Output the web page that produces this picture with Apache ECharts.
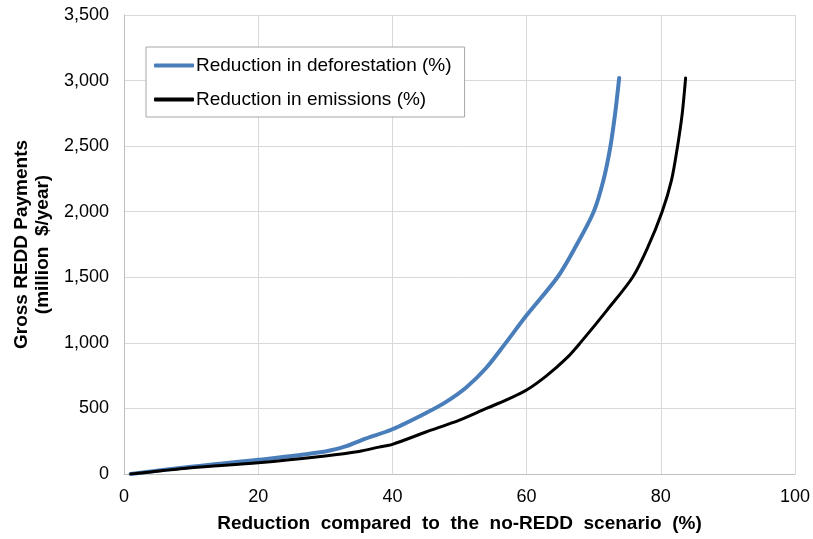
<!DOCTYPE html>
<html>
<head>
<meta charset="utf-8">
<script src="https://cdn.jsdelivr.net/npm/echarts@6/dist/echarts.min.js"></script>
<style>html,body{margin:0;padding:0;background:#fff;}#c{width:813px;height:539px;}</style>
</head>
<body>
<div id="c"></div>
<script>
// Reduction in deforestation (%) vs payments
var deforX = [1, 10, 20, 30, 33, 36, 40, 45, 48, 51, 54, 56.9, 60, 64.6, 67.3, 70, 71.5, 72.5, 73.2, 73.8];
var deforY = [0, 55, 108, 172, 210, 270, 341, 465, 550, 660, 810, 1000, 1210, 1500, 1733, 2000, 2250, 2500, 2750, 3020];
// Reduction in emissions (%) vs payments
var emisX = [1, 10, 20, 30, 35, 38, 40, 45, 50, 54, 57, 60, 63, 66, 68, 72, 75.8, 78.1, 80.2, 81.6, 82.5, 83.2, 83.7];
var emisY = [0, 48, 86, 138, 172, 205, 226, 320, 411, 500, 565, 640, 750, 885, 1000, 1250, 1500, 1733, 2000, 2241, 2500, 2750, 3020];
var seriesNames = ['Reduction in deforestation (%)', 'Reduction in emissions (%)'];
var xTitle = 'Reduction  compared  to  the  no-REDD  scenario  (%)';
var yTitle = 'Gross REDD Payments\n(million  $/year)';

function pairs(xs, ys) { return xs.map(function (x, i) { return [x, ys[i]]; }); }

var chart = echarts.init(document.getElementById('c'));
var font = 'Liberation Sans, Arial, sans-serif';
chart.setOption({
  animation: false,
  textStyle: { fontFamily: font },
  grid: { left: 124, right: 17, top: 15, bottom: 65, containLabel: false },
  legend: {
    orient: 'vertical', left: 146, top: 47,
    padding: [9, 13, 8, 8], itemGap: 15,
    borderColor: '#a6a6a6', borderWidth: 1, backgroundColor: '#fff', borderRadius: 0,
    itemWidth: 40, itemHeight: 4, icon: 'roundRect',
    textStyle: { fontSize: 19, lineHeight: 19, color: '#000', fontFamily: font, padding: [0, 0, 0, -3] },
    data: seriesNames
  },
  xAxis: {
    type: 'value', min: 0, max: 100, interval: 20,
    name: xTitle, nameLocation: 'middle', nameGap: 40,
    nameTextStyle: { fontSize: 19, fontWeight: 'bold', color: '#000', fontFamily: font },
    axisLine: { show: true, lineStyle: { color: '#bfbfbf' } },
    axisTick: { show: false },
    axisLabel: { fontSize: 18, color: '#000', margin: 14, fontFamily: font },
    splitLine: { show: true, lineStyle: { color: '#d9d9d9', width: 1 } }
  },
  yAxis: {
    type: 'value', min: 0, max: 3500, interval: 500,
    name: yTitle, nameLocation: 'middle', nameGap: 70, nameRotate: 90,
    nameTextStyle: { fontSize: 19, fontWeight: 'bold', color: '#000', lineHeight: 21, fontFamily: font, align: 'center' },
    axisLine: { show: true, lineStyle: { color: '#bfbfbf' } },
    axisTick: { show: false },
    axisLabel: {
      fontSize: 18, color: '#000', margin: 15, fontFamily: font,
      formatter: function (v) { return v.toLocaleString('en-US'); }
    },
    splitLine: { show: true, lineStyle: { color: '#d9d9d9', width: 1 } }
  },
  series: [
    {
      name: seriesNames[0], type: 'line', smooth: 0.3, showSymbol: false,
      data: pairs(deforX, deforY),
      lineStyle: { color: '#4a7ebb', width: 4, cap: 'round', join: 'round' },
      itemStyle: { color: '#4a7ebb' }
    },
    {
      name: seriesNames[1], type: 'line', smooth: 0.3, showSymbol: false,
      data: pairs(emisX, emisY),
      lineStyle: { color: '#000', width: 3, cap: 'round', join: 'round' },
      itemStyle: { color: '#000' }
    }
  ]
});
</script>
</body>
</html>
